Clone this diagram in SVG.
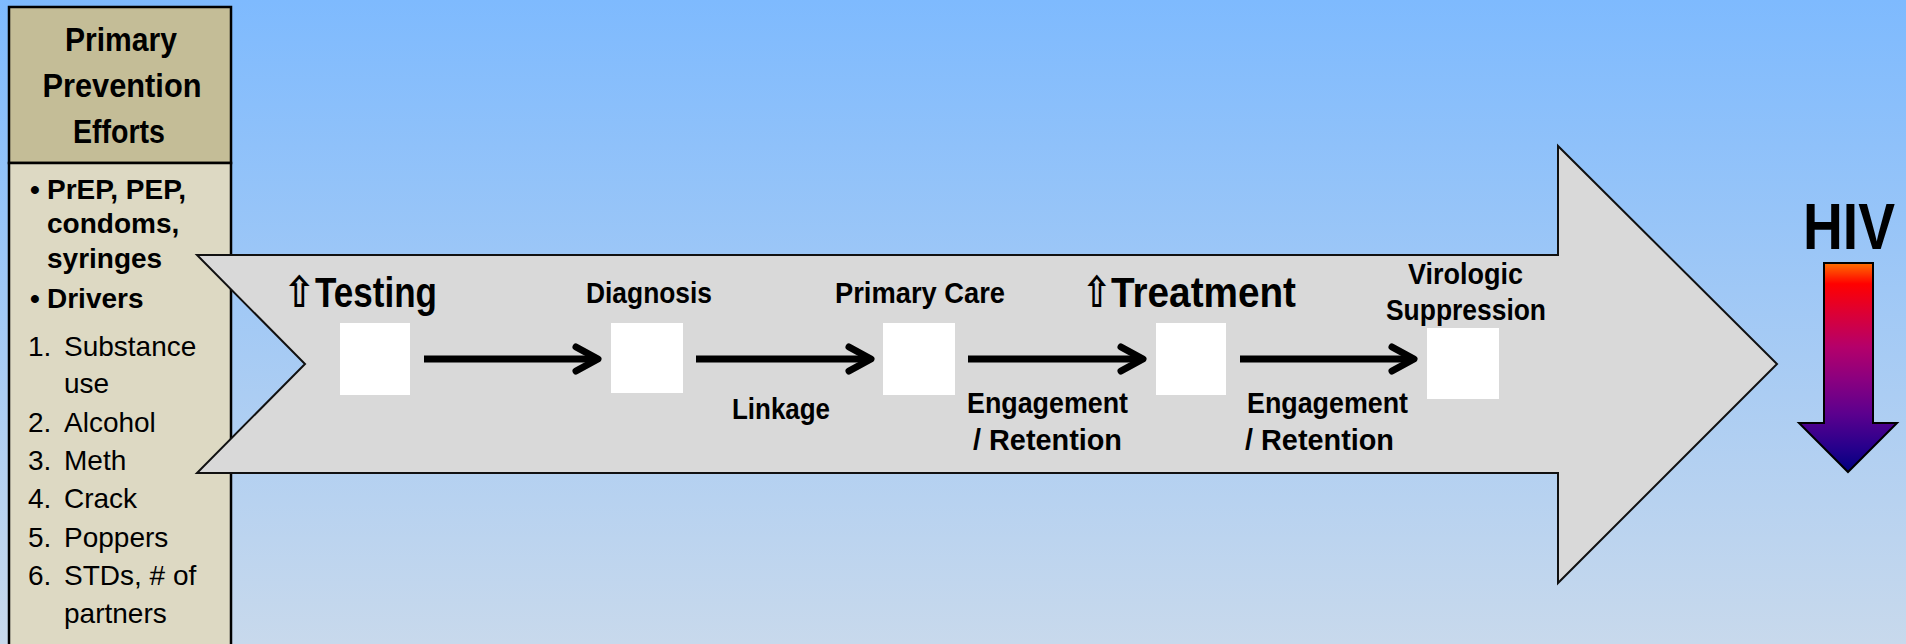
<svg xmlns="http://www.w3.org/2000/svg" width="1906" height="644" viewBox="0 0 1906 644">
<defs>
<linearGradient id="bg" x1="0" y1="0" x2="0" y2="1">
<stop offset="0" stop-color="#7ebafe"/>
<stop offset="1" stop-color="#c8d9ec"/>
</linearGradient>
<linearGradient id="hivg" gradientUnits="userSpaceOnUse" x1="0" y1="263" x2="0" y2="472">
<stop offset="0" stop-color="#ff7000"/>
<stop offset="0.1" stop-color="#ff0000"/>
<stop offset="0.24" stop-color="#dc0035"/>
<stop offset="0.4" stop-color="#b5006a"/>
<stop offset="0.56" stop-color="#8a0080"/>
<stop offset="0.72" stop-color="#5c008e"/>
<stop offset="0.88" stop-color="#28008c"/>
<stop offset="1" stop-color="#000080"/>
</linearGradient>
<marker id="ah" markerUnits="userSpaceOnUse" markerWidth="40" markerHeight="40" viewBox="-30 -20 40 40" refX="-3" refY="0" orient="auto" overflow="visible">
<path d="M-22,-12 L0,0 L-22,12" fill="none" stroke="#000" stroke-width="7" stroke-linecap="round" stroke-linejoin="round"/>
</marker>
<style>
.hd{font-family:"Liberation Sans",Arial,sans-serif;font-weight:bold;font-size:33px;fill:#000;text-anchor:middle}
.bb{font-family:"Liberation Sans",Arial,sans-serif;font-weight:bold;font-size:28px;fill:#000}
.bn{font-family:"Liberation Sans",Arial,sans-serif;font-size:28px;fill:#000}
.lbl{font-family:"Liberation Sans",Arial,sans-serif;font-weight:bold;font-size:29px;fill:#000}
.big{font-family:"Liberation Sans",Arial,sans-serif;font-weight:bold;font-size:42px;fill:#000}
.up{font-family:"DejaVu Sans",sans-serif;font-weight:bold;font-size:43px;fill:#000}
.box{fill:#fff}
.conn{fill:none;stroke:#000;stroke-width:7;marker-end:url(#ah)}
</style>
</defs>
<rect x="0" y="0" width="1906" height="644" fill="url(#bg)"/>

<g id="prevention-panel">
<rect x="9" y="7" width="222" height="156" fill="#c4bd97" stroke="#000" stroke-width="2.5"/>
<rect x="9" y="163" width="222" height="500" fill="#ddd9c3" stroke="#000" stroke-width="2.5"/>
<text class="hd" x="121" y="51" textLength="112" lengthAdjust="spacingAndGlyphs">Primary</text>
<text class="hd" x="122" y="97" textLength="159" lengthAdjust="spacingAndGlyphs">Prevention</text>
<text class="hd" x="119" y="143" textLength="92" lengthAdjust="spacingAndGlyphs">Efforts</text>
<text class="bb" x="30" y="199">•</text>
<text class="bb" x="47" y="199">PrEP, PEP,</text>
<text class="bb" x="47" y="233">condoms,</text>
<text class="bb" x="47" y="268">syringes</text>
<text class="bb" x="30" y="308">•</text>
<text class="bb" x="47" y="308">Drivers</text>
<text class="bn" x="28" y="356">1.</text>
<text class="bn" x="64" y="356">Substance</text>
<text class="bn" x="64" y="393">use</text>
<text class="bn" x="28" y="432">2.</text>
<text class="bn" x="64" y="432">Alcohol</text>
<text class="bn" x="28" y="470">3.</text>
<text class="bn" x="64" y="470">Meth</text>
<text class="bn" x="28" y="508">4.</text>
<text class="bn" x="64" y="508">Crack</text>
<text class="bn" x="28" y="547">5.</text>
<text class="bn" x="64" y="547">Poppers</text>
<text class="bn" x="28" y="585">6.</text>
<text class="bn" x="64" y="585">STDs, # of</text>
<text class="bn" x="64" y="623">partners</text>
</g>

<g id="big-arrow">
<path d="M197,255 L1558,255 L1558,146 L1777,364 L1558,583 L1558,473 L197,473 L305,364 Z" fill="#d9d9d9" stroke="#111" stroke-width="2"/>
</g>

<g id="testing">
<rect class="box" x="340" y="323" width="70" height="72"/>
<text x="283" y="307"><tspan class="up" textLength="32" lengthAdjust="spacingAndGlyphs">⇧</tspan><tspan class="big" textLength="122" lengthAdjust="spacingAndGlyphs">Testing</tspan></text>
</g>
<g id="diagnosis">
<rect class="box" x="611" y="323" width="72" height="70"/>
<text class="lbl" x="586" y="303" textLength="126" lengthAdjust="spacingAndGlyphs">Diagnosis</text>
</g>
<g id="primary-care">
<rect class="box" x="883" y="323" width="72" height="72"/>
<text class="lbl" x="835" y="303" textLength="170" lengthAdjust="spacingAndGlyphs">Primary Care</text>
</g>
<g id="treatment">
<rect class="box" x="1156" y="323" width="70" height="72"/>
<text x="1082" y="307"><tspan class="up" textLength="29" lengthAdjust="spacingAndGlyphs">⇧</tspan><tspan class="big" textLength="185" lengthAdjust="spacingAndGlyphs">Treatment</tspan></text>
</g>
<g id="virologic-suppression">
<rect class="box" x="1427" y="328" width="72" height="71"/>
<text class="lbl" x="1408" y="284" textLength="115" lengthAdjust="spacingAndGlyphs">Virologic</text>
<text class="lbl" x="1386" y="320" textLength="160" lengthAdjust="spacingAndGlyphs">Suppression</text>
</g>

<g id="connectors">
<path class="conn" d="M424,359 H595"/>
<path class="conn" d="M696,359 H868"/>
<path class="conn" d="M968,359 H1140"/>
<path class="conn" d="M1240,359 H1411"/>
<text class="lbl" x="732" y="419" textLength="98" lengthAdjust="spacingAndGlyphs">Linkage</text>
<text class="lbl" x="967" y="413" textLength="161" lengthAdjust="spacingAndGlyphs">Engagement</text>
<text class="lbl" x="973" y="450" textLength="149" lengthAdjust="spacingAndGlyphs">/ Retention</text>
<text class="lbl" x="1247" y="413" textLength="161" lengthAdjust="spacingAndGlyphs">Engagement</text>
<text class="lbl" x="1245" y="450" textLength="149" lengthAdjust="spacingAndGlyphs">/ Retention</text>
</g>

<g id="hiv">
<text x="1803" y="249" font-family="Liberation Sans, Arial, sans-serif" font-weight="bold" font-size="64" textLength="92" lengthAdjust="spacingAndGlyphs">HIV</text>
<path d="M1824,263 L1873,263 L1873,423 L1897,423 L1848,472 L1799,423 L1824,423 Z" fill="url(#hivg)" stroke="#000" stroke-width="2"/>
</g>
</svg>
